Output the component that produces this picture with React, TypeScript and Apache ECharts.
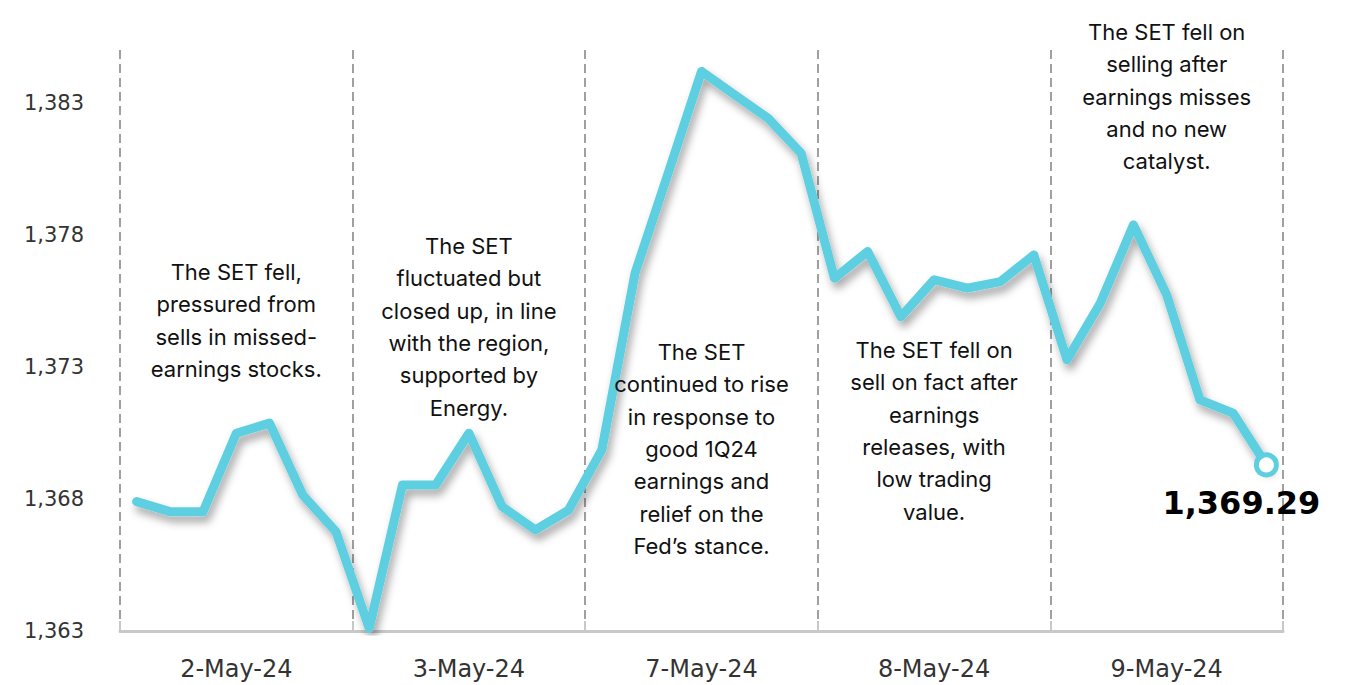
import React, { useEffect, useRef } from "react";
import * as echarts from "echarts";

const days = ["2-May-24", "3-May-24", "7-May-24", "8-May-24", "9-May-24"];
const slotsPerDay = 7;

const setIndex = [
  1367.9, 1367.52, 1367.52, 1370.49, 1370.87, 1368.15, 1366.76,
  1363.1, 1368.53, 1368.53, 1370.49, 1367.71, 1366.83, 1367.58,
  1369.86, 1376.55, 1380.35, 1384.19, 1383.3, 1382.42, 1381.09,
  1376.36, 1377.37, 1374.9, 1376.3, 1375.98, 1376.23, 1377.24,
  1373.27, 1375.41, 1378.38, 1375.73, 1371.75, 1371.25, 1369.29,
];

const yTickLabels = [1363, 1368, 1373, 1378, 1383];

const notes = [
  "The SET fell,\npressured from\nsells in missed-\nearnings stocks.",
  "The SET\nfluctuated but\nclosed up, in line\nwith the region,\nsupported by\nEnergy.",
  "The SET\ncontinued to rise\nin response to\ngood 1Q24\nearnings and\nrelief on the\nFed\u2019s stance.",
  "The SET fell on\nsell on fact after\nearnings\nreleases, with\nlow trading\nvalue.",
  "The SET fell on\nselling after\nearnings misses\nand no new\ncatalyst.",
];
const noteTops = [256, 230, 336, 334, 16];

const LINE_COLOR = "#5dcfe0";

export default function App() {
  const ref = useRef<HTMLDivElement>(null);
  useEffect(() => {
    if (!ref.current) return;
    const chart = echarts.init(ref.current, null, { renderer: "svg" });
    const categories = days.flatMap((d) =>
      Array.from({ length: slotsPerDay }, (_, i) => `${d}#${i}`)
    );
    const last = setIndex.length - 1;
    const data = setIndex.map((v, i) =>
      i === last
        ? {
            value: v,
            symbol: "circle",
            symbolSize: 20,
            itemStyle: { color: "#ffffff", borderColor: LINE_COLOR, borderWidth: 5 },
            label: {
              show: true,
              position: "bottom",
              offset: [-25, 5],
              formatter: () =>
                v.toLocaleString("en-US", { minimumFractionDigits: 2, maximumFractionDigits: 2 }),
              fontFamily: "DejaVu Sans",
              fontWeight: "bold",
              fontSize: 32,
              color: "#000",
            },
          }
        : v
    );
    const left = 120, right = 67, top = 50, bottom = 54;
    const plotW = 1350 - left - right;
    const dayW = plotW / days.length;
    const graphics = notes.map((t, i) => ({
      type: "text",
      x: left + dayW * (i + 0.5),
      y: noteTops[i],
      style: {
        text: t,
        textAlign: "center",
        textVerticalAlign: "top",
        fontFamily: "Inter",
        fontSize: 22,
        lineHeight: 32.3,
        fill: "#111",
      },
      z: 10,
    }));
    chart.setOption({
      animation: false,
      backgroundColor: "#ffffff",
      grid: { left, right, top, bottom },
      xAxis: {
        type: "category",
        data: categories,
        boundaryGap: true,
        axisLine: { show: true, lineStyle: { color: "#c8c8c8", width: 3 } },
        axisTick: {
          show: true,
          inside: true,
          length: 10,
          interval: (i: number) => i % slotsPerDay === 0,
          lineStyle: { color: "#c8c8c8", width: 2 },
        },
        axisLabel: {
          interval: (i: number) => i % slotsPerDay === 3,
          formatter: (v: string) => v.split("#")[0],
          fontFamily: "DejaVu Sans",
          fontSize: 24,
          color: "#333",
          margin: 26,
        },
        splitLine: {
          show: true,
          interval: (i: number) => i % slotsPerDay === 0,
          lineStyle: { color: "#a0a0a0", width: 2, type: [9, 5] },
        },
      },
      yAxis: {
        type: "value",
        min: 1363,
        max: 1385,
        interval: 1,
        axisLine: { show: false },
        axisTick: { show: false },
        splitLine: { show: false },
        axisLabel: {
          formatter: (v: number) =>
            yTickLabels.includes(Math.round(v)) ? Math.round(v).toLocaleString("en-US") : "",
          fontFamily: "DejaVu Sans",
          fontSize: 21,
          color: "#333",
          margin: 36,
        },
      },
      series: [
        {
          type: "line",
          data,
          symbol: "none",
          showAllSymbol: true,
          z: 5,
          lineStyle: {
            color: LINE_COLOR,
            width: 9,
            join: "round",
            cap: "round",
            shadowColor: "rgba(0,0,0,0.35)",
            shadowBlur: 8,
            shadowOffsetX: 3,
            shadowOffsetY: 6,
          },
        },
      ],
      graphic: graphics,
    });
    return () => chart.dispose();
  }, []);
  return (
    <div
      ref={ref}
      style={{ position: "fixed", left: 0, top: 0, width: 1350, height: 685, background: "#fff" }}
    />
  );
}
